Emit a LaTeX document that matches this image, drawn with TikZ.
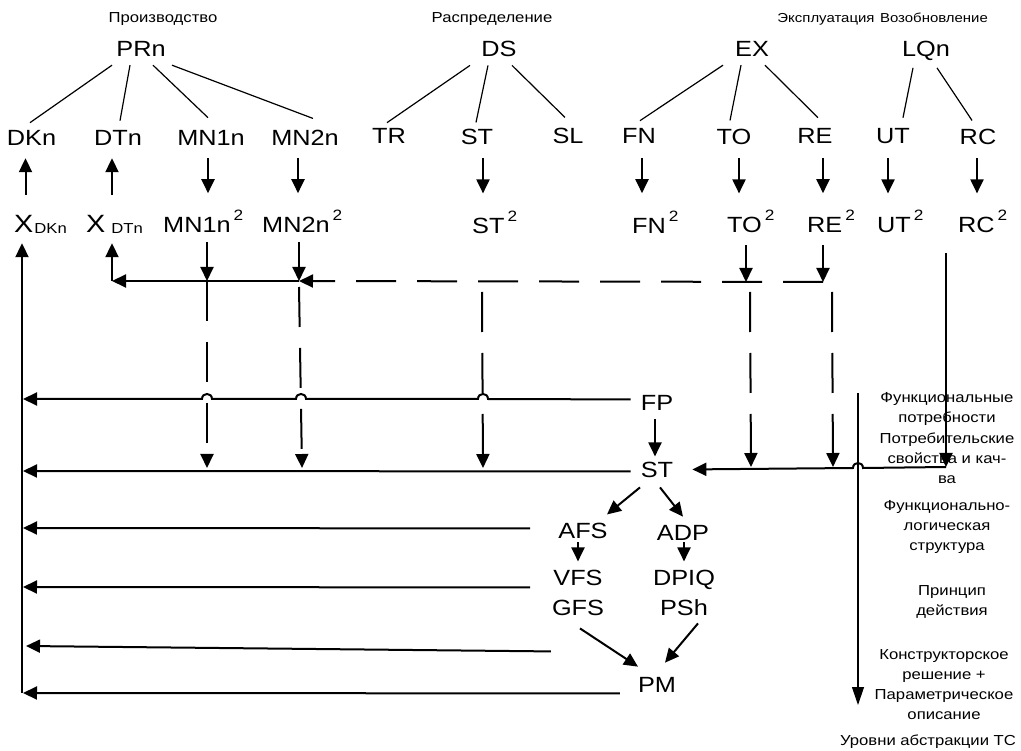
\documentclass[tikz,border=0pt]{standalone}
\usepackage{fontspec}
\setmainfont{Liberation Sans}[FakeStretch=1.15]
\usetikzlibrary{arrows.meta,calc}

% small raised square mark, lowered index and enlarged X
\newcommand{\supt}{\kern3pt\raisebox{12pt}{\fontsize{15}{15}\selectfont 2}}
\newcommand{\subt}[1]{\raisebox{-1pt}{\fontsize{14.5}{15}\selectfont #1}}
\newcommand{\bigX}{{\fontsize{25}{25}\selectfont X}}

\begin{document}
\begin{tikzpicture}[x=1pt,y=-1pt,
  lbl/.style={inner sep=0pt, anchor=base, font=\fontsize{22}{24}\selectfont},
  lblw/.style={lbl, anchor=base west},
  hdr/.style={inner sep=0pt, anchor=base, font=\fontsize{14.5}{16}\selectfont},
  hdrs/.style={hdr, font=\fontsize{13}{16}\selectfont},
  note/.style={inner sep=0pt, align=center, font=\fontsize{14.5}{20}\selectfont},
  tree/.style={line width=1.2pt},
  arr/.style={line width=2pt, -{Triangle[length=14pt,width=13pt]}},
  bus/.style={arr, dash pattern=on 40pt off 21pt},
  axis/.style={line width=1.2pt, -{Triangle[length=18pt,width=12pt]}},
]
\useasboundingbox (0,0) rectangle (1021,751);

% ---------- stage headings ----------
\node[hdr]  (hPR) at (163,23) {Производство};
\node[hdr]  (hDS) at (492,23) {Распределение};
\node[hdrs] (hEX) at (826,23) {Эксплуатация};
\node[hdrs] (hLQ) at (934,23) {Возобновление};

% ---------- stage roots ----------
\node[lbl] (PRn) at (141,57) {PRn};
\node[lbl] (DS)  at (499,57) {DS};
\node[lbl] (EX)  at (752,57) {EX};
\node[lbl] (LQn) at (926,57) {LQn};

% ---------- stage components ----------
\node[lbl] (DKn) at (31.5,146) {DKn};
\node[lbl] (DTn) at (118,146) {DTn};
\node[lbl] (MNa) at (211,146) {MN1n};
\node[lbl] (MNb) at (305,146) {MN2n};
\node[lbl] (TR)  at (389,144) {TR};
\node[lbl] (STt) at (477,145) {ST};
\node[lbl] (SL)  at (568,144) {SL};
\node[lbl] (FN)  at (639,144) {FN};
\node[lbl] (TO)  at (734,145) {TO};
\node[lbl] (RE)  at (815,144) {RE};
\node[lbl] (UT)  at (893,144) {UT};
\node[lbl] (RC)  at (978,145) {RC};

% ---------- second-level components ----------
\node[lblw] (XDK)  at (14,233)  {\bigX\kern1pt\subt{DKn}};
\node[lblw] (XDT)  at (86,233)  {\bigX\kern6pt\subt{DTn}};
\node[lblw] (MNa2) at (163,233) {MN1n\supt};
\node[lblw] (MNb2) at (262,233) {MN2n\supt};
\node[lblw] (ST2)  at (472,234) {ST\supt};
\node[lblw] (FN2)  at (632,234) {FN\supt};
\node[lblw] (TO2)  at (727,233) {TO\supt};
\node[lblw] (RE2)  at (807,233) {RE\supt};
\node[lblw] (UT2)  at (877,233) {UT\supt};
\node[lblw] (RC2)  at (958,233) {RC\supt};

% ---------- abstraction levels ----------
\node[lbl] (FP)   at (657,411) {FP};
\node[lbl] (ST)   at (657,478) {ST};
\node[lbl] (AFS)  at (583,538) {AFS};
\node[lbl] (ADP)  at (683,540) {ADP};
\node[lbl] (VFS)  at (578,585) {VFS};
\node[lbl] (DPIQ) at (684,585) {DPIQ};
\node[lbl] (GFS)  at (578,615) {GFS};
\node[lbl] (PSh)  at (684,615) {PSh};
\node[lbl] (PM)   at (657,692) {PM};

% ---------- level captions ----------
\node[note] (n1) at (947,409) {Функциональные\\потребности};
\node[note] (n2) at (947,458) {Потребительские\\свойства и кач-\\ва};
\node[note] (n3) at (947,527) {Функционально-\\логическая\\структура};
\node[note] (n4) at (952,602) {Принцип\\действия};
\node[note] (n5) at (944,685) {Конструкторское\\решение +\\Параметрическое\\описание};
\node[note] (n6) at (928,742) {Уровни абстракции ТС};

% ---------- decomposition trees ----------
\draw[tree] ($(PRn.south)+(-29,8)$) -- ($(DKn.north)+(-1.5,-8)$);
\draw[tree] ($(PRn.south)+(-11,8)$) -- ($(DTn.north)+(2,-10)$);
\draw[tree] ($(PRn.south)+(12,8)$)  -- ($(MNa.north)+(-3,-13)$);
\draw[tree] ($(PRn.south)+(31,8)$)  -- ($(MNb.north)+(8,-12)$);
\draw[tree] ($(DS.south)+(-29,8)$)  -- ($(TR.north)+(-2,-6)$);
\draw[tree] ($(DS.south)+(-11,8)$)  -- ($(STt.north)+(-1,-7)$);
\draw[tree] ($(DS.south)+(13,8)$)   -- ($(SL.north)+(-3,-11)$);
\draw[tree] ($(EX.south)+(-29,8)$)  -- ($(FN.north)+(1,-8)$);
\draw[tree] ($(EX.south)+(-11,8)$)  -- ($(TO.north)+(-4,-9)$);
\draw[tree] ($(EX.south)+(13,8)$)   -- ($(RE.north)+(3,-11)$);
\draw[tree] ($(LQn.south)+(-13,6.5)$) -- ($(UT.north)+(10,-11)$);
\draw[tree] ($(LQn.south)+(11,6.5)$)  -- ($(RC.north)+(-6,-9)$);

% ---------- component -> second level ----------
\draw[arr] ($(DKn.south)+(-6,49)$) -- ($(DKn.south)+(-6,12)$);
\draw[arr] ($(DTn.south)+(-6,49)$) -- ($(DTn.south)+(-6,12)$);
\draw[arr] ($(MNa.south)+(-3,12)$) -- ($(MNa.south)+(-3,47)$);
\draw[arr] ($(MNb.south)+(-7,12)$) -- ($(MNb.south)+(-7,47)$);
\draw[arr] ($(STt.south)+(6,13)$)  -- ($(STt.south)+(6,48)$);
\draw[arr] ($(FN.south)+(3,14)$)   -- ($(FN.south)+(3,49)$);
\draw[arr] ($(TO.south)+(5,13)$)   -- ($(TO.south)+(5,48)$);
\draw[arr] ($(RE.south)+(8,14)$)   -- ($(RE.south)+(8,49)$);
\draw[arr] ($(UT.south)+(-5,14)$)  -- ($(UT.south)+(-5,49)$);
\draw[arr] ($(RC.south)+(-1,13)$)  -- ($(RC.south)+(-1,48)$);

% ---------- collecting bus ----------
\coordinate (jL) at (112,281);
\coordinate (jA) at (207,281);
\coordinate (jB) at (299,281);
\coordinate (jT) at (746,282);
\coordinate (jR) at (823,282);
\coordinate (Lb) at (22,693);

\draw[arr] ($(MNa2.south -| jA)+(0,9)$) -- (jA);
\draw[arr] ($(MNb2.south -| jB)+(0,9)$) -- (jB);
\draw[arr] ($(TO2.south -| jT)+(0,12)$) -- (jT);
\draw[arr] ($(RE2.south -| jR)+(0,12)$) -- (jR);
\draw[bus] (jR) -- (jB);
\draw[arr] (jB) -- (jL);
\draw[arr] (jL) -- ($(XDT.south -| jL)+(0,9)$);
\draw[arr] (Lb) -- ($(XDK.south -| Lb)+(0,9)$);

% ---------- drops onto the ST level ----------
\coordinate (sA) at (207,468);
\coordinate (sB) at (302,468);
\coordinate (sS) at (483,468);
\coordinate (sT) at (751,467);
\coordinate (sR) at (833,467);
\draw[bus] (jA) -- (sA);
\draw[bus] (299,287) -- (sB);
\draw[bus] (482,292) -- (sS);
\draw[bus] (750,292) -- (sT);
\draw[bus] (832,292) -- (sR);

% from RC^2 down and into ST
\coordinate (rc) at (946,253);
\coordinate (rcb) at (946,467);
\draw[arr] (rc) -- (rcb);
\draw[arr] (rcb) -- (863,468) .. controls (863,461.3) and (853,461.3) .. (853,468)
  -- ($(ST.east)+(19,-1)$);

% abstraction axis
\draw[axis] (858,393) -- (858,705);

% ---------- feedback lines to the left rail ----------
\draw[arr] ($(FP.west)+(-10,-4)$) -- (488,399)
  .. controls (488,392.3) and (478,392.3) .. (478,399) -- (306,399)
  .. controls (306,392.3) and (296,392.3) .. (296,399) -- (212,399)
  .. controls (212,392.3) and (202,392.3) .. (202,399) -- (23,399);
\draw[arr] ($(ST.west)+(-10,1)$) -- (23,471);
\draw[arr] ($(AFS.west)+(-28,-2)$) -- (23,528);
\draw[arr] ($(VFS.west)+(-23,10)$) -- (23,587);
\draw[arr] ($(GFS.west)+(-1,44)$) -- (26,646);
\draw[arr] ($(PM.west)+(-18,9)$) -- (23,693);

% ---------- abstraction steps ----------
\draw[arr] ($(FP.south)+(-2,8)$) -- ($(ST.north)+(-2,-6)$);
\draw[arr] ($(ST.south)+(-17,9)$) -- ($(AFS.north)+(24,-8)$);
\draw[arr] ($(ST.south)+(3,9)$) -- ($(ADP.north)+(0,-8)$);
\draw[arr] ($(AFS.south)+(-5,4)$) -- ($(VFS.north)+(0,-8)$);
\draw[arr] ($(ADP.south)+(1,2)$) -- ($(DPIQ.north)+(0,-8)$);
\draw[arr] ($(GFS.south)+(2,13)$) -- ($(PM.north)+(-19,-10)$);
\draw[arr] ($(PSh.south)+(14,8)$) -- ($(PM.north)+(8,-14)$);
\end{tikzpicture}
\end{document}
